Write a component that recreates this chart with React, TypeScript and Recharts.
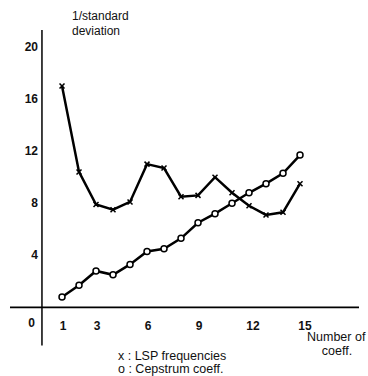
import { LineChart, Line, XAxis, YAxis, ReferenceLine } from 'recharts'

const coeffs = [1, 2, 3, 4, 5, 6, 7, 8, 9, 10, 11, 12, 13, 14, 15]
const lspValues = [17.0, 10.4, 7.9, 7.5, 8.1, 11.0, 10.7, 8.5, 8.6, 10.0, 8.8, 7.8, 7.1, 7.3, 9.5]
const cepstrumValues = [0.8, 1.7, 2.8, 2.5, 3.3, 4.3, 4.5, 5.3, 6.5, 7.2, 8.0, 8.8, 9.5, 10.3, 11.7]
const xTicks = [1, 3, 6, 9, 12, 15]
const yTicks = [0, 4, 8, 12, 16, 20]

const data = coeffs.map((n, i) => ({ n, lsp: lspValues[i], cep: cepstrumValues[i] }))

const font = '"Liberation Sans", Arial, sans-serif'

// the printed labels for 12 and 15 sit a little right of their points
const xLabelShift: Record<number, number> = { 12: 4, 15: 5 }

const XTick = ({ x, y, payload }: any) => (
  <text x={x + (xLabelShift[payload.value] ?? 1)} y={y + 12} textAnchor="middle" fontFamily={font}
    fontSize={12} fontWeight="bold" fill="#111">
    {payload.value}
  </text>
)

const YTick = ({ y, payload }: any) => (
  <text x={payload.value === 0 ? 35 : 38} y={payload.value === 0 ? y + 20 : y + 4} textAnchor="end"
    fontFamily={font} fontSize={12} fontWeight="bold" fill="#111">
    {payload.value}
  </text>
)

const CrossDot = ({ cx, cy, index }: any) => (
  <path key={index} d={`M${cx - 2.5},${cy - 2.5}L${cx + 2.5},${cy + 2.5}M${cx + 2.5},${cy - 2.5}L${cx - 2.5},${cy + 2.5}`}
    stroke="#000" strokeWidth={1.5} fill="none" />
)

const textStyle = { position: 'absolute' as const, fontFamily: font, fontSize: 12.5, color: '#111', whiteSpace: 'nowrap' as const }

export default function App() {
  return (
    <div style={{ position: 'fixed', left: 0, top: 0, width: 368, height: 376, background: '#fff' }}>
      <LineChart width={368} height={376} data={data} margin={{ top: 30, right: 9, bottom: 36, left: 9 }}>
        <XAxis dataKey="n" type="number" domain={[-2.06, 18.47]} allowDataOverflow ticks={xTicks}
          height={30} tickLine={false} tick={<XTick />} axisLine={false} />
        <YAxis type="number" domain={[-0.2, 21.3]} allowDataOverflow ticks={yTicks} width={1}
          tickLine={false} axisLine={false} tick={<YTick />} />
        <ReferenceLine segment={[{ x: -2.06, y: 0 }, { x: 18.47, y: 0.001 }]} ifOverflow="visible"
          stroke="#000" strokeWidth={1.8} />
        <ReferenceLine segment={[{ x: -0.18, y: 21.3 }, { x: -0.18, y: -2.92 }]} ifOverflow="visible"
          stroke="#000" strokeWidth={1.5} />
        <Line dataKey="lsp" stroke="#000" strokeWidth={2.5} dot={<CrossDot />} isAnimationActive={false} />
        <Line dataKey="cep" stroke="#000" strokeWidth={2.5}
          dot={{ r: 3, fill: '#fff', stroke: '#000', strokeWidth: 1.5 }} isAnimationActive={false} />
      </LineChart>
      <div style={{ ...textStyle, left: 72, top: 9, fontSize: 12, lineHeight: '15px' }}>1/standard<br />deviation</div>
      <div style={{ ...textStyle, left: 307, top: 330, lineHeight: '14px' }}>Number of</div>
      <div style={{ ...textStyle, left: 318, top: 344, width: 38, textAlign: 'center', lineHeight: '14px' }}>coeff.</div>
      <div style={{ ...textStyle, left: 118, top: 350, lineHeight: '12px' }}>x : LSP frequencies</div>
      <div style={{ ...textStyle, left: 118, top: 363, lineHeight: '12px' }}>o : Cepstrum coeff.</div>
    </div>
  )
}
